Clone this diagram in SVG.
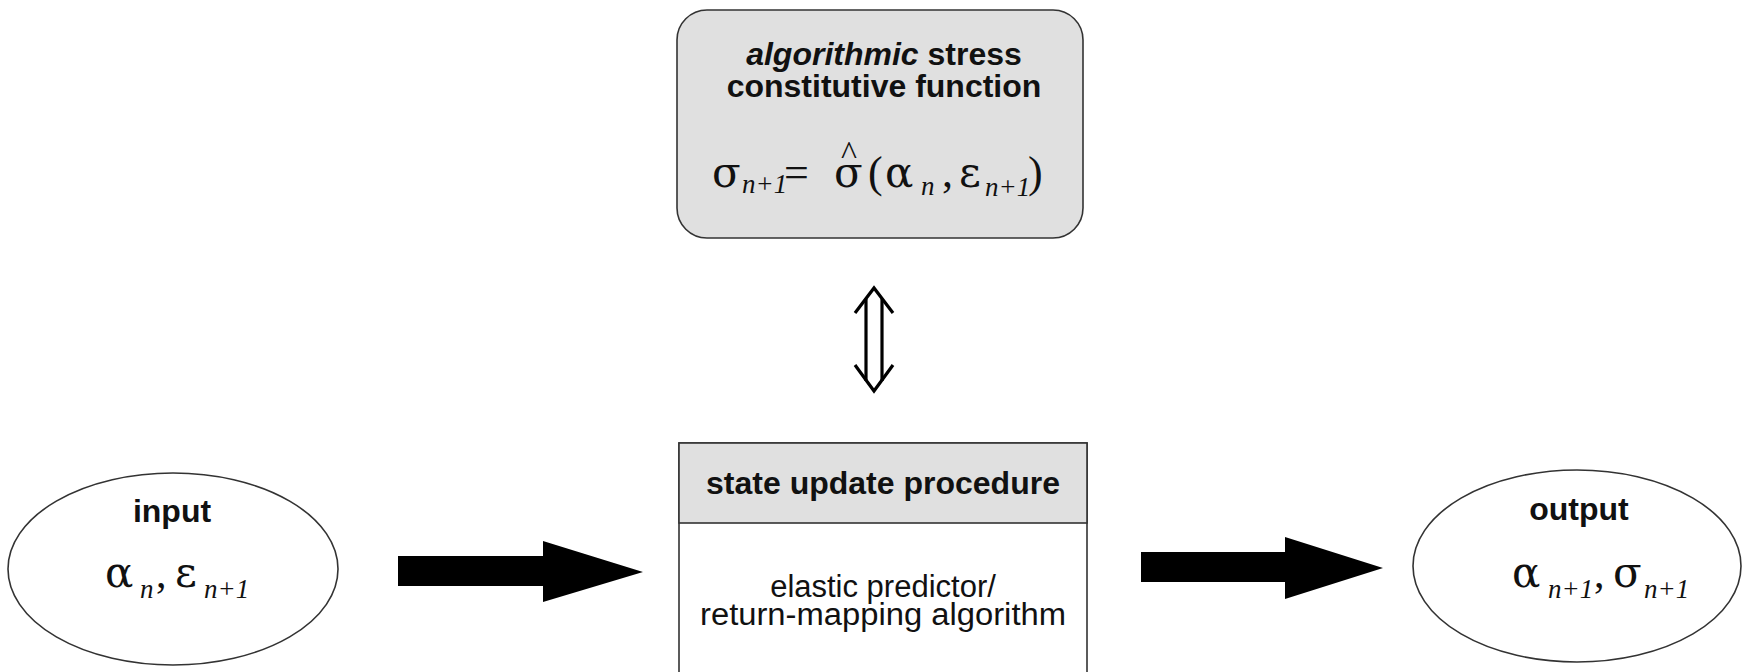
<svg xmlns="http://www.w3.org/2000/svg" width="1744" height="672" viewBox="0 0 1744 672">
<style>
.sans{font-family:"Liberation Sans",Arial,sans-serif;fill:#111}
.b{font-weight:bold}
.math{font-family:"Liberation Serif","Times New Roman",serif;fill:#111}
.gr{font-family:"DejaVu Serif","Liberation Serif",serif;font-size:42px}
.sub{font-family:"Liberation Serif","Times New Roman",serif;font-size:27px;font-style:italic}
.box{stroke:#333;stroke-width:1.6}
.ell{fill:#fff;stroke:#333;stroke-width:1.6}
.dbl{fill:none;stroke:#000;stroke-width:3.2;stroke-linejoin:miter}
</style>
<rect width="1744" height="672" fill="#fff"/>
<g id="connectors">
<polygon points="398,556 543,556 543,541 643,572 543,602 543,586 398,586" fill="#000"/>
<polygon points="1141,552 1285,552 1285,537 1383,568 1285,599 1285,582 1141,582" fill="#000"/>
<g id="double-arrow">
<polyline class="dbl" points="855,313 874,288 893,313"/>
<polyline class="dbl" points="855,365 874,391 893,365"/>
<line class="dbl" x1="866" y1="299" x2="866" y2="381"/>
<line class="dbl" x1="882" y1="299" x2="882" y2="381"/>
</g>
</g>
<g id="node-function">
<rect class="box" x="677" y="10" width="406" height="228" rx="30" ry="30" fill="#e0e0e0"/>
<text class="sans b" x="884" y="65" font-size="32" text-anchor="middle"><tspan font-style="italic">algorithmic</tspan> stress</text>
<text class="sans b" x="884" y="97" font-size="32" text-anchor="middle">constitutive function</text>
<text class="math" font-size="44" y="187"><tspan class="gr" x="712">σ</tspan><tspan class="sub" x="742" dy="6">n+1</tspan><tspan x="784" dy="-6">=</tspan><tspan class="gr" x="834">σ</tspan><tspan x="868">(</tspan><tspan class="gr" x="885">α</tspan><tspan class="sub" x="921" dy="8">n</tspan><tspan x="942" dy="-8">,</tspan><tspan class="gr" x="959">ε</tspan><tspan class="sub" x="985" dy="9">n+1</tspan><tspan x="1028" dy="-9">)</tspan></text>
<text class="math" font-size="34" x="849" y="164" text-anchor="middle">^</text>
</g>
<g id="node-state">
<rect class="box" x="679" y="443" width="408" height="260" fill="#fff"/>
<rect class="box" x="679" y="443" width="408" height="80" fill="#e0e0e0"/>
<text class="sans b" x="883" y="494" font-size="32" text-anchor="middle">state update procedure</text>
<text class="sans" x="883" y="597" font-size="31" text-anchor="middle">elastic predictor/</text>
<text class="sans" x="883" y="625" font-size="31" text-anchor="middle" textLength="366" lengthAdjust="spacingAndGlyphs">return-mapping algorithm</text>
</g>
<g id="node-input">
<ellipse class="ell" cx="173" cy="569" rx="165" ry="96"/>
<text class="sans b" x="172" y="522" font-size="32" text-anchor="middle">input</text>
<text class="math" font-size="42" y="587"><tspan class="gr" x="105">α</tspan><tspan class="sub" x="140" dy="11">n</tspan><tspan x="156" dy="-11">,</tspan><tspan class="gr" x="175">ε</tspan><tspan class="sub" x="204" dy="11">n+1</tspan></text>
</g>
<g id="node-output">
<ellipse class="ell" cx="1577" cy="566" rx="164" ry="96"/>
<text class="sans b" x="1579" y="520" font-size="32" text-anchor="middle">output</text>
<text class="math" font-size="42" y="587"><tspan class="gr" x="1512">α</tspan><tspan class="sub" x="1548" dy="11">n+1</tspan><tspan x="1594" dy="-11">,</tspan><tspan class="gr" x="1613">σ</tspan><tspan class="sub" x="1644" dy="11">n+1</tspan></text>
</g>
</svg>
